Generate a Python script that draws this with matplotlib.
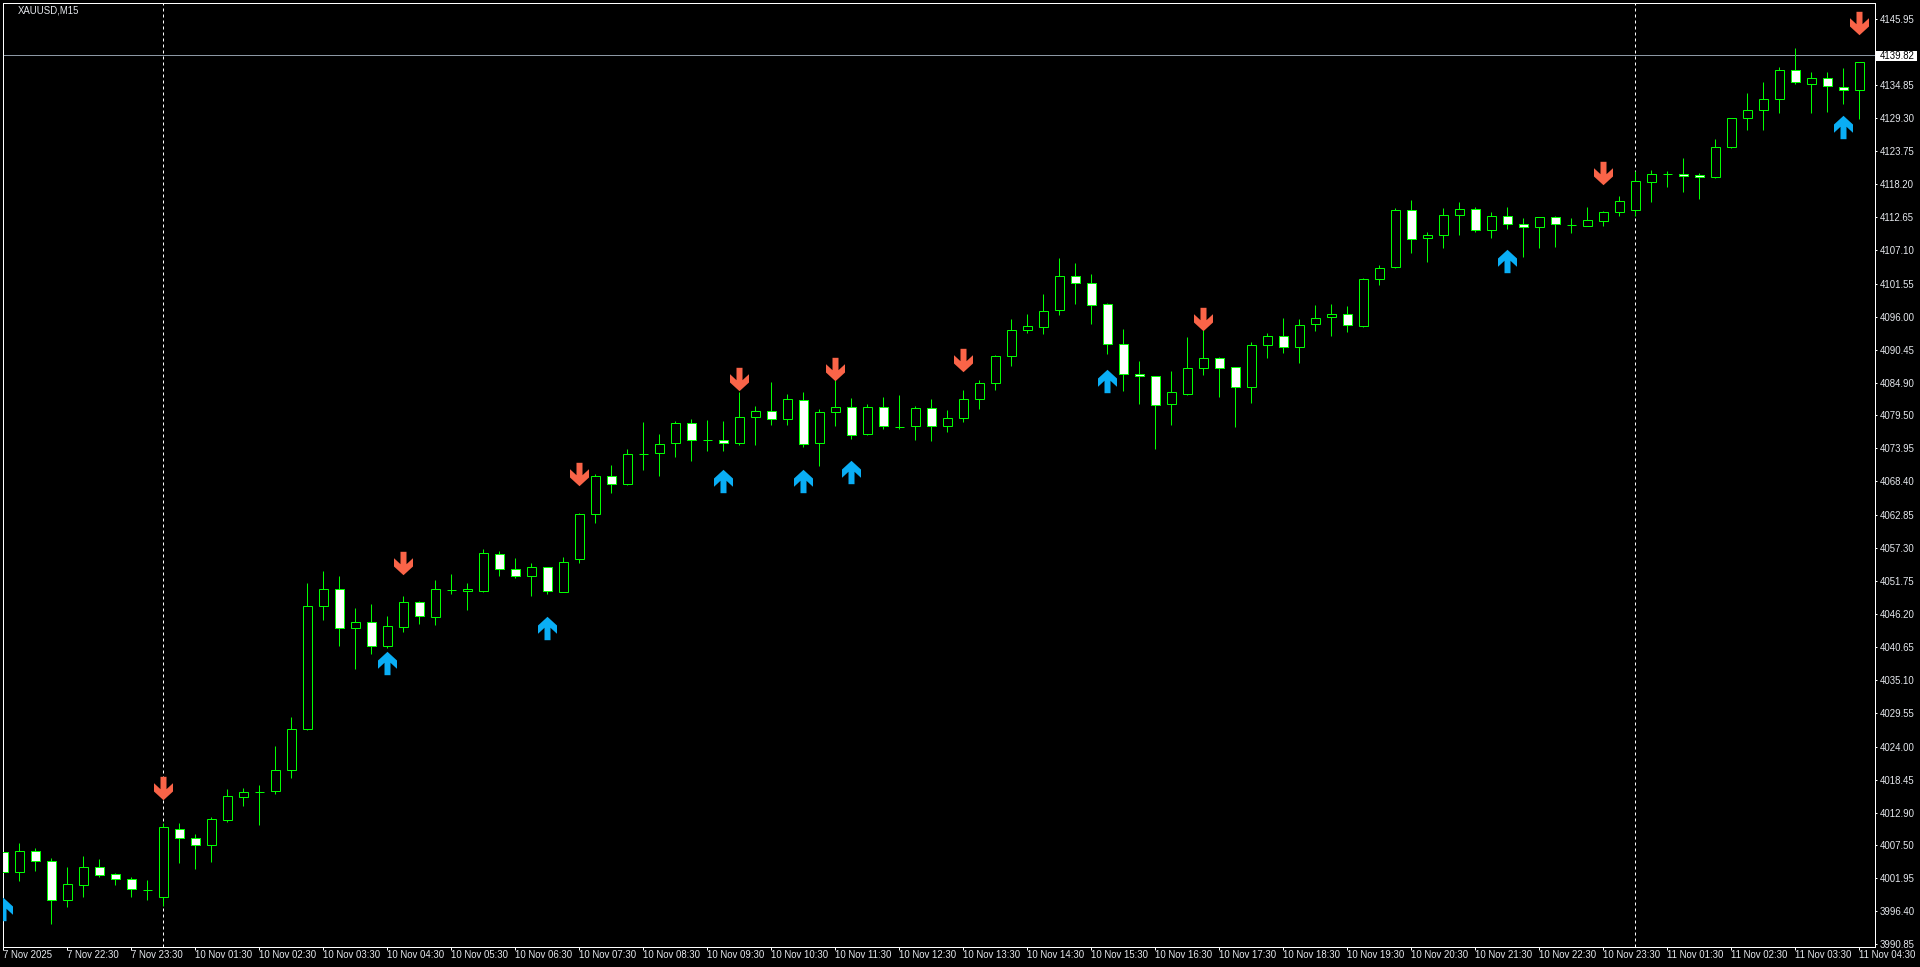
import matplotlib
matplotlib.use("Agg")
import matplotlib.pyplot as plt
from matplotlib.patches import Rectangle
from matplotlib.path import Path
from matplotlib.transforms import blended_transform_factory

plt.rcParams['font.family'] = ['Liberation Sans', 'DejaVu Sans']

# ---------------- data ----------------
opens = [4006.28, 4002.93, 4006.45, 4004.78, 3998.36, 4000.87, 4003.77, 4002.60, 4001.76, 3999.95,
         3998.75, 4010.14, 4008.63, 4007.46, 4011.76, 4015.50, 4016.45, 4016.61, 4020.00, 4026.89,
         4047.49, 4050.34, 4043.80, 4044.81, 4040.90, 4044.08, 4048.16, 4045.76, 4050.28, 4050.06,
         4050.11, 4056.20, 4053.80, 4052.51, 4054.02, 4049.95, 4055.36, 4062.90, 4069.26, 4068.04,
         4073.00, 4073.12, 4074.79, 4078.14, 4075.29, 4075.29, 4074.79, 4079.15, 4080.15, 4078.81,
         4081.99, 4074.79, 4079.98, 4080.82, 4076.41, 4080.82, 4077.58, 4077.64, 4080.65, 4077.64,
         4078.98, 4082.27, 4084.84, 4089.36, 4093.72, 4094.22, 4097.07, 4102.76, 4101.59, 4098.07,
         4091.37, 4086.35, 4086.01, 4081.32, 4083.00, 4087.35, 4089.03, 4087.52, 4084.28, 4091.20,
         4092.82, 4090.87, 4094.72, 4095.89, 4096.51, 4094.38, 4102.26, 4104.27, 4113.81, 4109.12,
         4109.63, 4112.98, 4113.98, 4110.46, 4112.81, 4111.47, 4110.97, 4112.64, 4111.36, 4111.25,
         4112.08, 4113.48, 4113.82, 4118.62, 4119.90, 4119.96, 4119.79, 4119.34, 4124.37, 4129.23,
         4130.57, 4132.41, 4137.27, 4135.03, 4135.93, 4134.42, 4134.03]
highs = [4008.18, 4007.85, 4007.01, 4005.28, 4003.83, 4005.67, 4005.17, 4002.88, 4002.15, 4001.65,
         4011.14, 4011.20, 4009.35, 4012.20, 4016.89, 4017.06, 4017.56, 4024.10, 4028.95, 4051.40,
         4053.41, 4052.57, 4047.21, 4047.88, 4045.87, 4049.22, 4048.30, 4051.90, 4052.90, 4051.40,
         4057.09, 4056.70, 4055.58, 4054.75, 4054.10, 4055.75, 4063.20, 4069.66, 4071.16, 4073.84,
         4078.36, 4076.35, 4078.53, 4078.87, 4078.70, 4078.53, 4083.39, 4081.04, 4085.06, 4083.05,
         4083.39, 4080.49, 4085.34, 4082.38, 4081.38, 4082.55, 4082.89, 4081.04, 4082.22, 4080.37,
         4083.72, 4085.40, 4089.59, 4095.62, 4096.45, 4099.80, 4105.83, 4104.99, 4103.15, 4098.35,
         4093.94, 4088.58, 4086.07, 4086.91, 4092.60, 4093.72, 4089.25, 4087.60, 4091.70, 4093.21,
         4095.72, 4095.56, 4097.90, 4098.13, 4097.79, 4102.42, 4104.60, 4114.15, 4115.55, 4110.19,
         4114.21, 4115.21, 4114.37, 4113.54, 4114.37, 4112.53, 4112.70, 4112.87, 4112.48, 4114.37,
         4113.70, 4116.22, 4120.46, 4120.57, 4120.40, 4122.58, 4120.01, 4125.71, 4129.30, 4133.47,
         4135.26, 4137.82, 4141.01, 4136.93, 4136.93, 4137.66, 4138.61]
lows = [4001.93, 4001.54, 4003.21, 3994.34, 3997.18, 3998.86, 4002.20, 4000.87, 3998.86, 3998.36,
        3997.35, 4004.55, 4003.55, 4004.72, 4011.31, 4014.10, 4010.92, 4016.11, 4018.79, 4026.70,
        4045.26, 4040.90, 4037.05, 4039.56, 4040.45, 4043.25, 4044.59, 4044.42, 4049.61, 4046.93,
        4049.95, 4052.63, 4052.29, 4049.22, 4049.61, 4049.90, 4054.80, 4061.50, 4066.53, 4067.87,
        4070.38, 4069.37, 4072.56, 4071.89, 4073.56, 4073.56, 4074.57, 4074.57, 4077.92, 4077.92,
        4074.23, 4071.05, 4077.75, 4075.57, 4076.19, 4077.25, 4077.25, 4075.41, 4075.24, 4076.74,
        4078.42, 4080.60, 4083.78, 4087.80, 4093.33, 4093.16, 4096.34, 4098.19, 4094.83, 4089.81,
        4083.61, 4081.43, 4073.90, 4077.92, 4082.95, 4086.29, 4082.61, 4077.58, 4081.60, 4089.14,
        4089.97, 4088.30, 4093.66, 4092.82, 4093.49, 4094.30, 4101.31, 4104.20, 4106.72, 4105.16,
        4107.56, 4109.74, 4110.24, 4109.24, 4110.69, 4106.05, 4107.56, 4107.73, 4110.07, 4111.20,
        4111.25, 4112.92, 4112.92, 4115.27, 4117.78, 4116.94, 4115.77, 4119.30, 4124.30, 4127.33,
        4127.33, 4130.18, 4135.03, 4130.18, 4130.34, 4131.68, 4129.17]
closes = [4002.93, 4006.45, 4004.78, 3998.36, 4000.92, 4003.77, 4002.43, 4001.76, 4000.09, 4000.00,
          4010.47, 4008.63, 4007.46, 4011.81, 4015.66, 4016.33, 4016.45, 4020.02, 4026.89, 4047.49,
          4050.34, 4043.80, 4044.81, 4040.90, 4044.14, 4048.16, 4045.81, 4050.34, 4050.28, 4050.39,
          4056.37, 4053.69, 4052.51, 4054.02, 4050.00, 4054.86, 4062.95, 4069.26, 4067.92, 4072.95,
          4073.00, 4074.62, 4078.14, 4075.29, 4075.29, 4074.85, 4079.15, 4080.15, 4078.81, 4082.16,
          4074.62, 4079.98, 4080.82, 4076.13, 4080.82, 4077.64, 4077.58, 4080.65, 4077.64, 4078.98,
          4082.16, 4084.84, 4089.36, 4093.72, 4094.39, 4096.90, 4102.76, 4101.59, 4097.91, 4091.37,
          4086.35, 4086.01, 4081.16, 4083.33, 4087.35, 4089.03, 4087.35, 4084.28, 4091.20, 4092.71,
          4090.87, 4094.55, 4095.72, 4096.51, 4094.55, 4102.26, 4104.21, 4113.81, 4108.96, 4109.63,
          4112.98, 4113.98, 4110.46, 4112.81, 4111.47, 4111.02, 4112.64, 4111.47, 4111.36, 4112.14,
          4113.48, 4115.32, 4118.67, 4119.85, 4119.90, 4119.51, 4119.34, 4124.37, 4129.23, 4130.57,
          4132.41, 4137.27, 4135.26, 4135.93, 4134.59, 4133.92, 4138.61]

down_idx = [10, 25, 36, 46, 52, 60, 75, 100, 116]
down_price = [4017.12, 4054.80, 4069.60, 4085.62, 4087.30, 4088.81, 4095.67, 4120.12, 4145.25]
up_idx = [0, 24, 34, 45, 50, 53, 69, 94, 115]
up_price = [3996.74, 4038.05, 4043.92, 4068.54, 4068.54, 4070.05, 4085.29, 4105.27, 4127.83]

separator_idx = [10, 102]
current_price = 4139.82
current_label = "4139.82"
title = "XAUUSD,M15"

xtick_idx = list(range(0, 117, 4))
xtick_labels = ["7 Nov 2025", "7 Nov 22:30", "7 Nov 23:30",
                "10 Nov 01:30", "10 Nov 02:30", "10 Nov 03:30", "10 Nov 04:30", "10 Nov 05:30",
                "10 Nov 06:30", "10 Nov 07:30", "10 Nov 08:30", "10 Nov 09:30", "10 Nov 10:30",
                "10 Nov 11:30", "10 Nov 12:30", "10 Nov 13:30", "10 Nov 14:30", "10 Nov 15:30",
                "10 Nov 16:30", "10 Nov 17:30", "10 Nov 18:30", "10 Nov 19:30", "10 Nov 20:30",
                "10 Nov 21:30", "10 Nov 22:30", "10 Nov 23:30",
                "11 Nov 01:30", "11 Nov 02:30", "11 Nov 03:30", "11 Nov 04:30"]
ytick_labels = ["4145.95", "4134.85", "4129.30", "4123.75", "4118.20", "4112.65", "4107.10",
                "4101.55", "4096.00", "4090.45", "4084.90", "4079.50", "4073.95", "4068.40",
                "4062.85", "4057.30", "4051.75", "4046.20", "4040.65", "4035.10", "4029.55",
                "4024.00", "4018.45", "4012.90", "4007.50", "4001.95", "3996.40", "3990.85"]

# ---------------- styling ----------------
W, H = 1920, 967
GREEN = '#00FF00'
RED = '#FA6448'
BLUE = '#0AAEF5'
TXT = '#E6E9EE'
PX = 0.72  # one pixel in points at dpi=100
FS = 6.9

fig = plt.figure(figsize=(W / 100, H / 100), dpi=100, facecolor='black')
ax_l, ax_r, ax_t, ax_b = 2.7, 1874.5, 2.7, 946.7
ax = fig.add_axes([ax_l / W, (H - ax_b) / H, (ax_r - ax_l) / W, (ax_b - ax_t) / H])
ax.set_facecolor('black')
ax.set_xlim((ax_l - 3.3) / 16.0, (ax_r - 3.3) / 16.0)
ax.set_ylim(3990.47, 4148.60)

for s in ax.spines.values():
    s.set_color('white')
    s.set_linewidth(PX)

# separators
for sx in separator_idx:
    ax.axvline(sx, color='white', lw=PX, linestyle=(0, (3, 3)), zorder=1)

# current price line
ax.axhline(current_price, color='#8C98A4', lw=PX, zorder=1)

# candles
bw = 0.58
for i, (o, h, l, c) in enumerate(zip(opens, highs, lows, closes)):
    ax.vlines(i, l, h, color=GREEN, lw=PX, zorder=2)
    bottom = min(o, c)
    height = abs(c - o)
    fill = 'white' if c < o else 'black'
    ax.add_patch(Rectangle((i - bw / 2, bottom), bw, height, facecolor=fill,
                           edgecolor=GREEN, lw=PX, zorder=3))

# arrow markers
down_verts = [(-3, 11.7), (3, 11.7), (3, -0.7), (9.5, 5.3), (9.5, -3), (0, -11.7),
              (-9.5, -3), (-9.5, 5.3), (-3, -0.7), (-3, 11.7)]
down_path = Path(down_verts, closed=True)
up_path = Path([(x, -y) for x, y in down_verts], closed=True)
ms = 23.4 * PX
ax.plot(down_idx, down_price, linestyle='none', marker=down_path, ms=ms,
        color=RED, markeredgewidth=0, zorder=5)
ax.plot(up_idx, up_price, linestyle='none', marker=up_path, ms=ms,
        color=BLUE, markeredgewidth=0, zorder=5)

# x ticks
ax.set_xticks(xtick_idx)
ax.set_xticklabels(xtick_labels, ha='left', fontsize=FS, color=TXT)
ax.tick_params(axis='x', direction='out', length=3 * PX, width=PX, color='white', pad=0.3)

# y ticks on right
ax.yaxis.tick_right()
ax.set_yticks([float(v) for v in ytick_labels])
ax.set_yticklabels(ytick_labels, fontsize=FS, color=TXT)
ax.tick_params(axis='y', direction='out', length=2 * PX, width=PX, color='white', pad=2.0)

# current price label box
fig.add_artist(Rectangle((1876 / W, (H - 60.7) / H), 41 / W, 10 / H,
                         transform=fig.transFigure, facecolor='white', edgecolor='none', zorder=10))
fig.text(1879.3 / W, (H - 55.7) / H, current_label, fontsize=FS, color='black',
         ha='left', va='center', zorder=11)

# title
fig.text(17.7 / W, (H - 10.8) / H, title, fontsize=FS, color=TXT, ha='left', va='center')

fig.savefig('out.png', dpi=100, facecolor='black')
